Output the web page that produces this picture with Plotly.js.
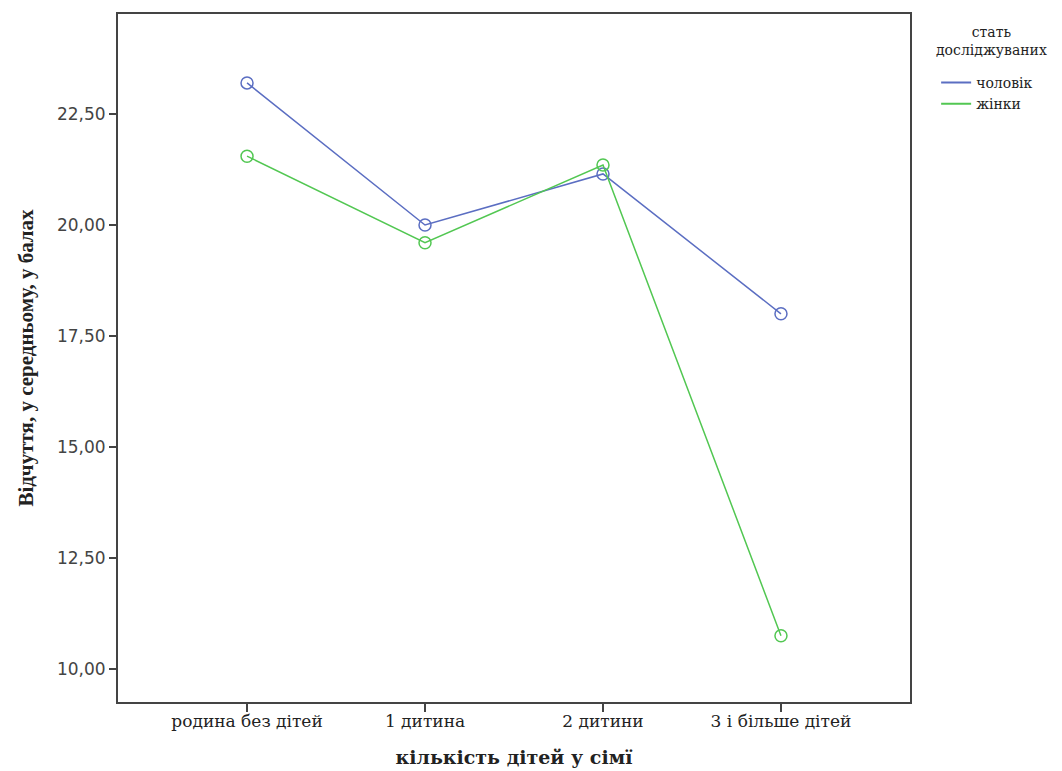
<!DOCTYPE html>
<html>
<head>
<meta charset="utf-8">
<script src="https://cdn.plot.ly/plotly-3.0.1.min.js"></script>
<style>html,body{margin:0;padding:0;background:#fff;}#chart{width:1062px;height:771px;}</style>
</head>
<body>
<div id="chart"></div>
<script>
var categories = ["родина без дітей", "1 дитина", "2 дитини", "3 і більше дітей"];
var menValues = [23.2, 20.0, 21.15, 18.0];
var womenValues = [21.55, 19.6, 21.35, 10.75];
var seriesNames = ["чоловік", "жінки"];
var legendTitle = "стать<br>досліджуваних";
var yTicks = [10, 12.5, 15, 17.5, 20, 22.5];

var blue = "#5b6ec2";
var green = "#52c752";

var traces = [
  {x: categories, y: menValues, type: "scatter", mode: "lines+markers", name: seriesNames[0],
   showlegend: false, line: {color: blue, width: 1.5},
   marker: {symbol: "circle-open", size: 12, color: blue, line: {width: 1.5, color: blue}}},
  {x: categories, y: womenValues, type: "scatter", mode: "lines+markers", name: seriesNames[1],
   showlegend: false, line: {color: green, width: 1.5},
   marker: {symbol: "circle-open", size: 12, color: green, line: {width: 1.5, color: green}}},
  {x: [null], y: [null], type: "scatter", mode: "lines", name: seriesNames[0],
   line: {color: blue, width: 2}},
  {x: [null], y: [null], type: "scatter", mode: "lines", name: seriesNames[1],
   line: {color: green, width: 2}}
];

var serif = "'DejaVu Serif', serif";
var serif2 = "'Liberation Serif', 'Times New Roman', serif";

var layout = {
  width: 1062, height: 771,
  paper_bgcolor: "#fff", plot_bgcolor: "#fff",
  separators: ", ",
  margin: {l: 118, r: 152, t: 14, b: 69, pad: 0},
  showlegend: true,
  legend: {
    x: 1.033, y: 0.923, xanchor: "left", yanchor: "top",
    font: {family: serif, size: 14, color: "#222"},
    bgcolor: "rgba(0,0,0,0)", itemwidth: 30, tracegroupgap: 0
  },
  annotations: [{
    text: legendTitle, xref: "paper", yref: "paper", x: 1.1035, y: 0.988,
    xanchor: "center", yanchor: "top", align: "center", showarrow: false,
    font: {family: serif, size: 14, color: "#222"}
  }],
  xaxis: {
    type: "category",
    range: [-0.725, 3.725],
    showline: true, linecolor: "#444", linewidth: 2, mirror: true,
    showgrid: false, zeroline: false,
    ticks: "outside", ticklen: 8, tickwidth: 1.5, tickcolor: "#444",
    ticklabelstandoff: -5,
    tickfont: {family: serif, size: 17, color: "#222"},
    title: {text: "<b>кількість дітей у сімї</b>", font: {family: serif, size: 19, color: "#222"}, standoff: 20},
    automargin: false
  },
  yaxis: {
    range: [9.257, 24.752],
    tickvals: yTicks, tickformat: ".2f",
    showline: true, linecolor: "#444", linewidth: 2, mirror: true,
    showgrid: false, zeroline: false,
    ticks: "outside", ticklen: 7, tickwidth: 1.5, tickcolor: "#444",
    tickfont: {family: "'DejaVu Sans', Verdana, sans-serif", size: 17, color: "#444"},
    title: {text: "<b>Відчуття, у середньому, у балах</b>", font: {family: serif2, size: 21, color: "#222"}, standoff: 18},
    automargin: false
  }
};

Plotly.newPlot("chart", traces, layout, {displayModeBar: false, staticPlot: true});
</script>
</body>
</html>
